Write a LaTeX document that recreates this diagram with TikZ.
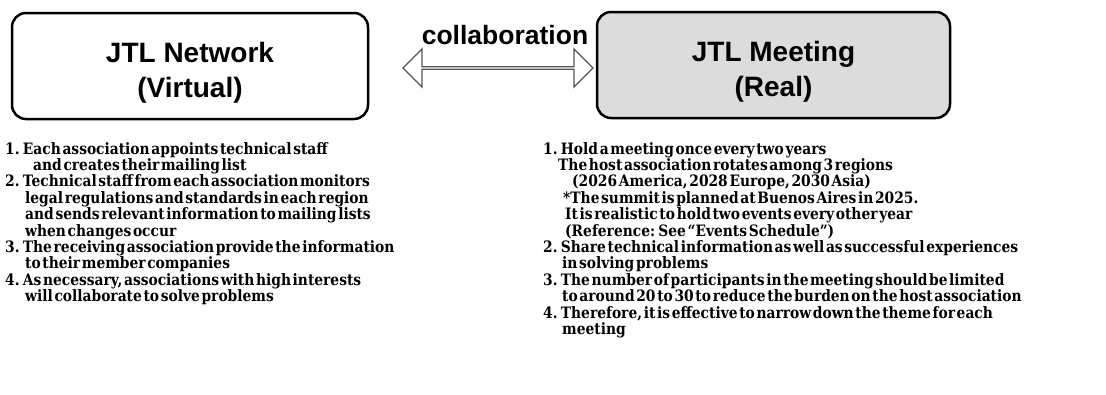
\documentclass[tikz,border=0pt]{standalone}
\usepackage{fontspec}
\setmainfont{Liberation Sans}
\newfontfamily\listfont[FakeStretch=0.88,WordSpace=0.35]{DejaVu Serif}
\usetikzlibrary{shapes.arrows}
\definecolor{meetgray}{RGB}{220,220,220}
\definecolor{arrowgray}{RGB}{85,85,85}
\tikzset{
  titlebox/.style={draw,line width=2.5pt,rounded corners=14pt,minimum height=106pt,
    align=center,font=\fontsize{28}{35}\selectfont\bfseries},
  listtext/.style={inner sep=0pt,align=left,anchor=north west,
    font=\listfont\bfseries\fontsize{15.7}{16.4}\selectfont},
}
\begin{document}
\begin{tikzpicture}[x=1pt,y=-1pt]
\useasboundingbox (0,0) rectangle (1106,394);
% the two boxes
\node[titlebox,fill=white,minimum width=356pt] (net) at (190,66) {\rule{0pt}{34pt}JTL Network\\(Virtual)};
\node[titlebox,fill=meetgray,minimum width=353pt] (meet) at (773.5,65) {\rule{0pt}{34pt}JTL Meeting\\(Real)};
% double arrow between them
\node[double arrow,draw=arrowgray,line width=1.3pt,fill=white,inner sep=0pt,
  minimum height=190pt,minimum width=38pt,double arrow head extend=9pt] (collab) at (498,68) {};
\node[font=\fontsize{26.5}{28}\selectfont\bfseries] (collabtext) at (505,35) {collaboration};
% lists
\node[listtext] (netlist) at (5,142) {1. Each association appoints technical staff\\
\hspace*{28pt}and creates their mailing list\\
2. Technical staff from each association monitors\\
\hspace*{20pt}legal regulations and standards in each region\\
\hspace*{20pt}and sends relevant information to mailing lists\\
\hspace*{20pt}when changes occur\\
3. The receiving association provide the information\\
\hspace*{20pt}to their member companies\\
4. As necessary, associations with high interests\\
\hspace*{20pt}will collaborate to solve problems};
\node[listtext] (meetlist) at (543,142) {1. Hold a meeting once every two years\\
\hspace*{15pt}The host association rotates among 3 regions\\
\hspace*{29pt}(2026 America, 2028 Europe, 2030 Asia)\\
\hspace*{20pt}*The summit is planned at Buenos Aires in 2025.\\
\hspace*{22pt}It is realistic to hold two events every other year\\
\hspace*{22pt}(Reference: See “Events Schedule”)\\
2. Share technical information as well as successful experiences\\
\hspace*{19pt}in solving problems\\
3. The number of participants in the meeting should be limited\\
\hspace*{19pt}to around 20 to 30 to reduce the burden on the host association\\
4. Therefore, it is effective to narrow down the theme for each\\
\hspace*{19pt}meeting};
\end{tikzpicture}
\end{document}
